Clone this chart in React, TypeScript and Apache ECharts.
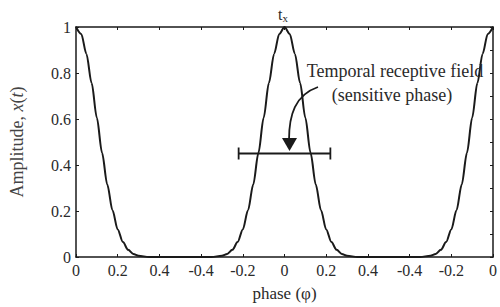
import React, { useEffect, useRef } from "react";
import * as echarts from "echarts";

// Profile of one period: offset from the peak (in phase units) and amplitude
const profileOffsets = [0, 0.025, 0.05, 0.075, 0.1, 0.125, 0.15, 0.175, 0.2, 0.225, 0.25, 0.275, 0.3, 0.35, 0.4, 0.45, 0.5];
const profileAmplitudes = [1, 0.97, 0.883, 0.756, 0.605, 0.453, 0.315, 0.203, 0.12, 0.065, 0.031, 0.013, 0.005, 0.0005, 0, 0, 0];
// Peak positions along the axis (two periods shown)
const peakPositions = [0, 1, 2];
const xTickLabels = ["0", "0.2", "0.4", "-0.4", "-0.2", "0", "0.2", "0.4", "-0.4", "-0.2", "0"];
const yTickLabels = ["0", "0.2", "0.4", "0.6", "0.8", "1"];
// Receptive field error bar: center position, half width, level
const fieldCenter = [1.0];
const fieldHalfWidth = [0.22];
const fieldLevel = [0.45];

const FONT = "'Liberation Serif', 'DejaVu Serif', serif";
const INK = "#1a1a1a";
const TEXT = "#2a2a2a";

function buildCurve(): number[][] {
  const pts: number[][] = [];
  const seen = new Set<string>();
  peakPositions.forEach((c) => {
    const side: number[][] = [];
    for (let i = profileOffsets.length - 1; i >= 0; i--) side.push([c - profileOffsets[i], profileAmplitudes[i]]);
    for (let i = 1; i < profileOffsets.length; i++) side.push([c + profileOffsets[i], profileAmplitudes[i]]);
    side.forEach((p) => {
      if (p[0] < -1e-9 || p[0] > 2 + 1e-9) return;
      const k = p[0].toFixed(4);
      if (seen.has(k)) return;
      seen.add(k);
      pts.push(p);
    });
  });
  pts.sort((a, b) => a[0] - b[0]);
  return pts;
}

export default function App() {
  const ref = useRef<HTMLDivElement>(null);
  useEffect(() => {
    if (!ref.current) return;
    const chart = echarts.init(ref.current, undefined, { renderer: "svg" });
    const curve = buildCurve();
    const labelStyle = { fontFamily: FONT, fontSize: 16, color: TEXT };
    const axisLine = { show: true, onZero: false, lineStyle: { color: INK, width: 1.5 } };
    const axisTick = { show: true, inside: true, length: 3, lineStyle: { color: INK } };
    chart.setOption({
      animation: false,
      backgroundColor: "#fff",
      grid: { left: 72, right: 6, top: 27, bottom: 44, containLabel: false },
      xAxis: [
        {
          type: "value",
          min: 0,
          max: 2,
          interval: 0.2,
          axisLine,
          axisTick,
          splitLine: { show: false },
          axisLabel: {
            ...labelStyle,
            margin: 5,
            formatter: (v: number) => xTickLabels[Math.round(v / 0.2)] ?? "",
          },
          name: "phase (φ)",
          nameLocation: "middle",
          nameGap: 28,
          nameTextStyle: { fontFamily: FONT, fontSize: 17, color: TEXT },
        },
        {
          type: "value",
          position: "top",
          min: 0,
          max: 2,
          interval: 0.2,
          axisLine,
          axisTick,
          axisLabel: { show: false },
          splitLine: { show: false },
        },
      ],
      yAxis: [
        {
          type: "value",
          min: 0,
          max: 1,
          interval: 0.2,
          axisLine,
          axisTick,
          splitLine: { show: false },
          axisLabel: {
            ...labelStyle,
            margin: 5,
            formatter: (v: number) => yTickLabels[Math.round(v / 0.2)] ?? "",
          },
          name: "{a|Amplitude, }{b|x}{a|(}{b|t}{a|)}",
          nameLocation: "middle",
          nameGap: 50,
          nameTextStyle: {
            rich: {
              a: { fontFamily: FONT, fontSize: 18, color: "#444" },
              b: { fontFamily: FONT, fontSize: 18, color: "#444", fontStyle: "italic" },
            },
          },
        },
        {
          type: "value",
          position: "right",
          min: 0,
          max: 1,
          interval: 0.1,
          axisLine,
          axisTick,
          axisLabel: { show: false },
          splitLine: { show: false },
        },
      ],
      series: [
        {
          type: "line",
          data: curve,
          showSymbol: false,
          smooth: 0.3,
          smoothMonotone: "x",
          lineStyle: { color: INK, width: 2 },
          z: 3,
        },
        {
          type: "custom",
          data: [[fieldCenter[0], fieldLevel[0], fieldHalfWidth[0]]],
          renderItem: (params: any, api: any) => {
            const c = api.value(0);
            const y = api.value(1);
            const h = api.value(2);
            const p1 = api.coord([c - h, y]);
            const p2 = api.coord([c + h, y]);
            const style = { stroke: INK, lineWidth: 1.8 };
            return {
              type: "group",
              children: [
                { type: "line", shape: { x1: p1[0], y1: p1[1], x2: p2[0], y2: p2[1] }, style },
                { type: "line", shape: { x1: p1[0], y1: p1[1] - 6, x2: p1[0], y2: p1[1] + 6 }, style },
                { type: "line", shape: { x1: p2[0], y1: p2[1] - 6, x2: p2[0], y2: p2[1] + 6 }, style },
              ],
            };
          },
          z: 4,
        },
      ],
      graphic: [
        {
          type: "text",
          x: 283,
          y: 14,
          style: {
            text: "{t|t}{s|x}",
            align: "center",
            verticalAlign: "middle",
            rich: {
              t: { fontFamily: FONT, fontSize: 16, fill: TEXT },
              s: { fontFamily: FONT, fontSize: 11, fill: TEXT, padding: [8, 0, 0, 0] },
            },
          },
        },
        {
          type: "text",
          x: 395,
          y: 71,
          style: {
            text: "Temporal receptive field",
            fontFamily: FONT,
            fontSize: 18,
            fill: TEXT,
            align: "center",
            verticalAlign: "middle",
          },
          z: 10,
        },
        {
          type: "text",
          x: 392,
          y: 95,
          style: {
            text: "(sensitive phase)",
            fontFamily: FONT,
            fontSize: 18,
            fill: TEXT,
            align: "center",
            verticalAlign: "middle",
          },
          z: 10,
        },
        {
          type: "bezierCurve",
          shape: { x1: 318, y1: 87, cpx1: 295, cpy1: 95, cpx2: 289, cpy2: 115, x2: 289, y2: 140 },
          style: { stroke: INK, lineWidth: 1.8, fill: null },
          z: 10,
        },
        {
          type: "polygon",
          shape: { points: [[282, 138], [297, 138], [289.5, 151]] },
          style: { fill: INK },
          z: 10,
        },
      ],
    });
    return () => chart.dispose();
  }, []);
  return <div ref={ref} style={{ position: "fixed", left: 0, top: 0, width: 500, height: 307 }} />;
}
